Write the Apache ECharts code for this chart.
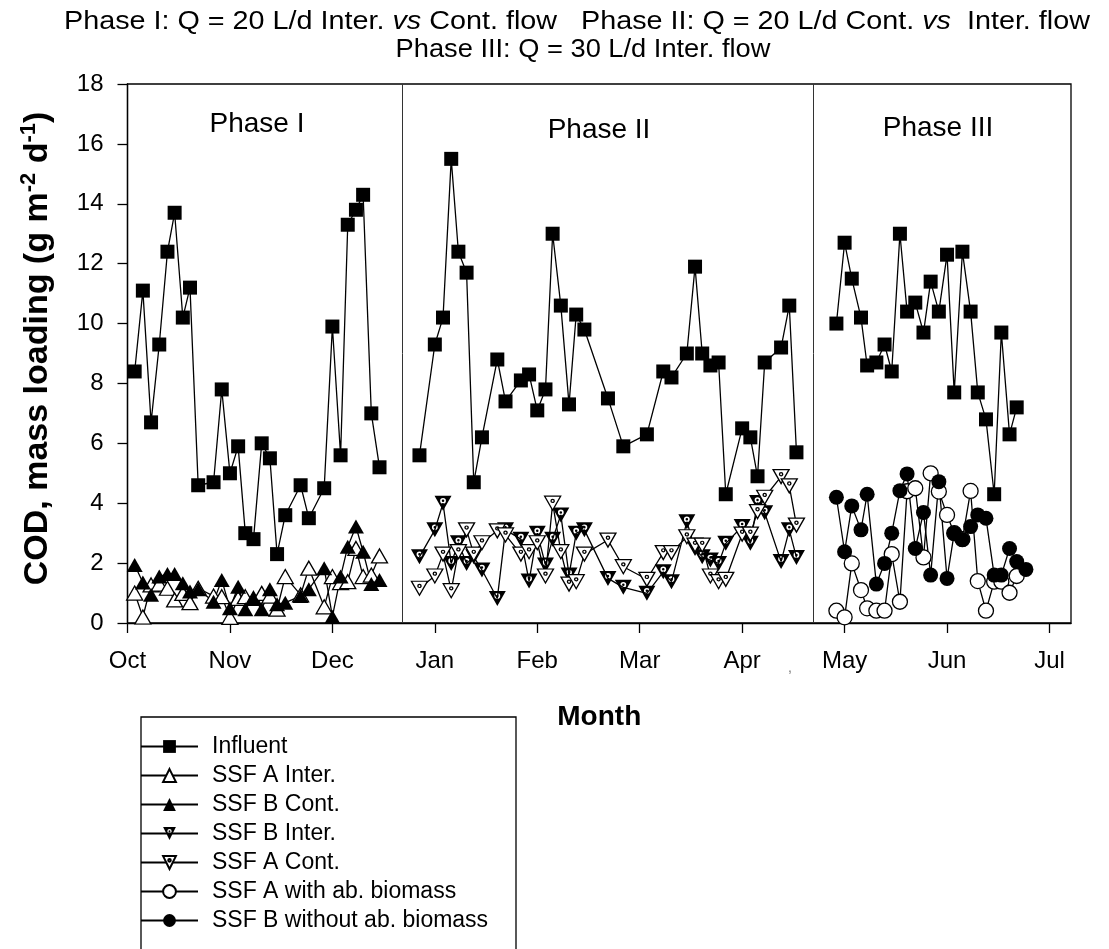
<!DOCTYPE html>
<html>
<head>
<meta charset="utf-8">
<script src="https://cdn.jsdelivr.net/npm/echarts@6/dist/echarts.min.js"></script>
<style>
html, body { margin: 0; padding: 0; background: #fff; }
#chart { width: 1109px; height: 949px; }
</style>
</head>
<body>
<div id="chart"></div>
<script>
// x values are months counted from 1 Oct (0 = Oct, 1 = Nov, ...)
const monthLabels = ['Oct', 'Nov', 'Dec', 'Jan', 'Feb', 'Mar', 'Apr', 'May', 'Jun', 'Jul']
const phaseBreaks = [2.68, 6.69]

// Phase I
const xPhase1 = [0.07, 0.15, 0.23, 0.31, 0.39, 0.46, 0.54, 0.61, 0.69, 0.84, 0.92, 1.0, 1.08, 1.15, 1.23, 1.31, 1.39, 1.46, 1.54, 1.69, 1.77, 1.92, 2.0, 2.08, 2.15, 2.23, 2.3, 2.38, 2.46]
const influent1 = [8.4, 11.1, 6.7, 9.3, 12.4, 13.7, 10.2, 11.2, 4.6, 4.7, 7.8, 5.0, 5.9, 3.0, 2.8, 6.0, 5.5, 2.3, 3.6, 4.6, 3.5, 4.5, 9.9, 5.6, 13.3, 13.8, 14.3, 7.0, 5.2]
const ssfAInter = [1.0, 0.2, 1.27, 1.3, 1.16, 0.77, 0.99, 0.68, 1.16, 0.9, 0.88, 0.19, 0.82, 0.88, 0.82, 0.99, 0.9, 0.46, 1.55, 0.94, 1.83, 0.54, 1.55, 1.35, 1.38, 2.49, 1.55, 1.6, 2.24]
const ssfBCont = [1.94, 1.35, 0.94, 1.55, 1.64, 1.64, 1.33, 1.05, 1.13, 0.71, 1.44, 0.49, 1.21, 0.46, 0.82, 0.46, 1.13, 0.63, 0.68, 0.9, 1.13, 1.83, 0.21, 1.55, 2.55, 3.22, 2.38, 1.3, 1.44]

// Phase II
const xPhase2 = [2.85, 3.0, 3.08, 3.16, 3.23, 3.31, 3.38, 3.46, 3.61, 3.69, 3.84, 3.92, 4.0, 4.08, 4.15, 4.23, 4.31, 4.38, 4.46, 4.69, 4.84, 5.07, 5.23, 5.31, 5.46, 5.54, 5.61, 5.69, 5.77, 5.84, 6.0, 6.08, 6.15, 6.22, 6.38, 6.46, 6.53]
const influent2 = [5.6, 9.3, 10.2, 15.5, 12.4, 11.7, 4.7, 6.2, 8.8, 7.4, 8.1, 8.3, 7.1, 7.8, 13.0, 10.6, 7.3, 10.3, 9.8, 7.5, 5.9, 6.3, 8.4, 8.2, 9.0, 11.9, 9.0, 8.6, 8.7, 4.3, 6.5, 6.2, 4.9, 8.7, 9.2, 10.6, 5.7]
const ssfBInter = [2.21, 3.11, 4.0, 1.99, 2.68, 1.99, 2.21, 1.77, 0.82, 3.11, 2.8, 1.4, 3.0, 1.94, 2.8, 3.61, 1.6, 3.0, 3.11, 1.49, 1.19, 0.99, 1.71, 1.38, 3.38, 2.49, 2.21, 2.1, 1.99, 2.66, 3.22, 2.66, 4.02, 3.68, 2.05, 3.11, 2.19]
const ssfACont = [1.16, 1.57, 2.3, 1.08, 2.38, 3.11, 2.3, 2.68, 3.08, 2.94, 2.3, 2.38, 2.68, 1.57, 4.0, 2.38, 1.3, 1.38, 2.3, 2.77, 1.88, 1.46, 2.35, 2.35, 2.88, 2.6, 2.6, 1.57, 1.38, 1.46, 2.97, 2.97, 3.72, 4.2, 4.89, 4.58, 3.27]

// Phase III
const xPhase3 = [6.92, 7.0, 7.07, 7.16, 7.22, 7.31, 7.39, 7.46, 7.54, 7.61, 7.69, 7.77, 7.84, 7.92, 8.0, 8.07, 8.15, 8.23, 8.3, 8.38, 8.46, 8.53, 8.61, 8.68, 8.77]
const influent3 = [10.0, 12.7, 11.5, 10.2, 8.6, 8.7, 9.3, 8.4, 13.0, 10.4, 10.7, 9.7, 11.4, 10.4, 12.3, 7.7, 12.4, 10.4, 7.7, 6.8, 4.3, 9.7, 6.3, 7.2]
const ssfAWith = [0.41, 0.19, 1.99, 1.1, 0.49, 0.41, 0.41, 2.3, 0.71, 4.4, 4.5, 2.19, 5.0, 4.39, 3.61, 3.0, 2.8, 4.41, 1.4, 0.41, 1.38, 1.38, 1.01, 1.57]
const ssfBWithout = [4.2, 2.38, 3.91, 3.11, 4.3, 1.3, 1.99, 3.0, 4.42, 4.98, 2.49, 3.69, 1.6, 4.72, 1.49, 3.0, 2.79, 3.22, 3.61, 3.5, 1.6, 1.6, 2.49, 2.05, 1.79]

const legendNames = ['Influent', 'SSF A Inter.', 'SSF B Cont.', 'SSF B Inter.', 'SSF A Cont.', 'SSF A with ab. biomass', 'SSF B without ab. biomass']

const FONT = 'Liberation Sans, Arial, Helvetica, sans-serif'
// inverted triangle with a small ring in the middle
const triDownFilled = 'path://M0,0L20,0L10,18Z M6.6,6A3.4,3.4 0 1 0 13.4,6A3.4,3.4 0 1 0 6.6,6Z M8.5,6A1.5,1.5 0 1 1 11.5,6A1.5,1.5 0 1 1 8.5,6Z'
const triDownOpen = 'path://M0,0L20,0L10,18Z M8,6A2,2 0 1 1 12,6A2,2 0 1 1 8,6Z'

const zip = (xs, ys) => ys.map((y, i) => [xs[i], y])

const lineSeries = (name, xs, ys, symbol, size, fill, border) => ({
  name: name,
  type: 'line',
  data: zip(xs, ys),
  symbol: symbol,
  symbolSize: size,
  showAllSymbol: true,
  lineStyle: { color: '#000', width: 1.3 },
  itemStyle: { color: fill, borderColor: '#000', borderWidth: border },
  emphasis: { disabled: true }
})

const chartDom = document.getElementById('chart')
const myChart = echarts.init(chartDom)
let option

option = {
  animation: false,
  backgroundColor: '#fff',
  textStyle: { fontFamily: FONT },
  grid: {
    left: 127.5,
    right: 38,
    top: 84,
    bottom: 326,
    show: true,
    borderColor: '#000',
    borderWidth: 1.3
  },
  xAxis: {
    type: 'value',
    min: 0,
    max: 9.21,
    name: 'Month',
    nameLocation: 'middle',
    nameGap: 80,
    nameTextStyle: { fontSize: 28, fontWeight: 'bold', color: '#000', fontFamily: FONT },
    splitLine: { show: false },
    axisLine: { lineStyle: { color: '#000', width: 1.3 } },
    axisTick: { length: 10, lineStyle: { color: '#000', width: 1.3 }, customValues: monthLabels.map((m, i) => i) },
    axisLabel: {
      customValues: monthLabels.map((m, i) => i),
      formatter: v => monthLabels[Math.round(v)],
      fontSize: 24,
      color: '#000',
      margin: 26,
      fontFamily: FONT
    }
  },
  yAxis: {
    type: 'value',
    min: 0,
    max: 18,
    interval: 2,
    name: '{b|COD, mass loading (g m}{s|-2}{b| d}{s|-1}{b|)}',
    nameLocation: 'middle',
    nameRotate: 90,
    nameGap: 70,
    nameTextStyle: {
      color: '#000',
      padding: [0, 0, 0, 10],
      rich: {
        b: { fontSize: 34, fontWeight: 'bold', fontFamily: FONT, color: '#000', lineHeight: 40 },
        s: { fontSize: 22, fontWeight: 'bold', fontFamily: FONT, color: '#000', verticalAlign: 'top', lineHeight: 24 }
      }
    },
    splitLine: { show: false },
    axisLine: { show: true, lineStyle: { color: '#000', width: 1.3 } },
    axisTick: { show: true, length: 10, lineStyle: { color: '#000', width: 1.3 } },
    axisLabel: { fontSize: 24, color: '#000', margin: 24, fontFamily: FONT }
  },
  legend: {
    orient: 'vertical',
    left: 140,
    top: 734,
    padding: 0,
    itemWidth: 57,
    itemHeight: 16,
    itemGap: 4,
    selectedMode: false,
    data: legendNames,
    textStyle: { fontSize: 23, color: '#000', fontFamily: FONT, lineHeight: 25, padding: [0, 0, 0, 9] }
  },
  graphic: [
    {
      type: 'rect',
      z: -1,
      shape: { x: 141, y: 717, width: 375, height: 250 },
      style: { fill: 'none', stroke: '#000', lineWidth: 1.3 }
    },
    {
      type: 'text',
      x: 577,
      y: 22,
      scaleX: 1.15,
      style: {
        text: '{n|Phase I: Q = 20 L/d Inter. }{i|vs}{n| Cont. flow   Phase II: Q = 20 L/d Cont. }{i|vs}{n|  Inter. flow}',
        align: 'center',
        verticalAlign: 'middle',
        rich: {
          n: { fontSize: 25, fontFamily: FONT, fill: '#000' },
          i: { fontSize: 25, fontFamily: FONT, fontStyle: 'italic', fill: '#000' }
        }
      }
    },
    {
      type: 'text',
      x: 583,
      y: 50,
      scaleX: 1.09,
      style: { text: 'Phase III: Q = 30 L/d Inter. flow', align: 'center', verticalAlign: 'middle', fontSize: 25, fontFamily: FONT, fill: '#000' }
    },
    {
      type: 'text',
      x: 257,
      y: 124,
      style: { text: 'Phase I', align: 'center', verticalAlign: 'middle', fontSize: 28, fontFamily: FONT, fill: '#000' }
    },
    {
      type: 'text',
      x: 599,
      y: 130,
      style: { text: 'Phase II', align: 'center', verticalAlign: 'middle', fontSize: 28, fontFamily: FONT, fill: '#000' }
    },
    {
      type: 'text',
      x: 938,
      y: 128,
      style: { text: 'Phase III', align: 'center', verticalAlign: 'middle', fontSize: 28, fontFamily: FONT, fill: '#000' }
    },
    {
      type: 'text',
      x: 790,
      y: 668,
      style: { text: ',', align: 'center', verticalAlign: 'middle', fontSize: 14, fontFamily: FONT, fill: '#777' }
    }
  ],
  series: [
    Object.assign(lineSeries('Influent', xPhase1, influent1, 'rect', 14, '#000', 0), {
      markLine: {
        silent: true,
        symbol: 'none',
        label: { show: false },
        lineStyle: { color: '#333', width: 1, type: 'solid' },
        data: phaseBreaks.map(x => ({ xAxis: x }))
      }
    }),
    lineSeries('Influent', xPhase2, influent2, 'rect', 14, '#000', 0),
    lineSeries('Influent', xPhase3, influent3, 'rect', 14, '#000', 0),
    lineSeries('SSF A Inter.', xPhase1, ssfAInter, 'triangle', [16, 14], '#fff', 1.3),
    lineSeries('SSF B Cont.', xPhase1, ssfBCont, 'triangle', [16, 14], '#000', 0),
    lineSeries('SSF B Inter.', xPhase2, ssfBInter, triDownFilled, [17, 15], '#000', 0),
    lineSeries('SSF A Cont.', xPhase2, ssfACont, triDownOpen, [16, 14], '#fff', 1.3),
    lineSeries('SSF A with ab. biomass', xPhase3, ssfAWith, 'circle', 15, '#fff', 1.3),
    lineSeries('SSF B without ab. biomass', xPhase3, ssfBWithout, 'circle', 15, '#000', 0)
  ]
}

option && myChart.setOption(option)
window.addEventListener('resize', function () {
  myChart.resize()
})
</script>
</body>
</html>
